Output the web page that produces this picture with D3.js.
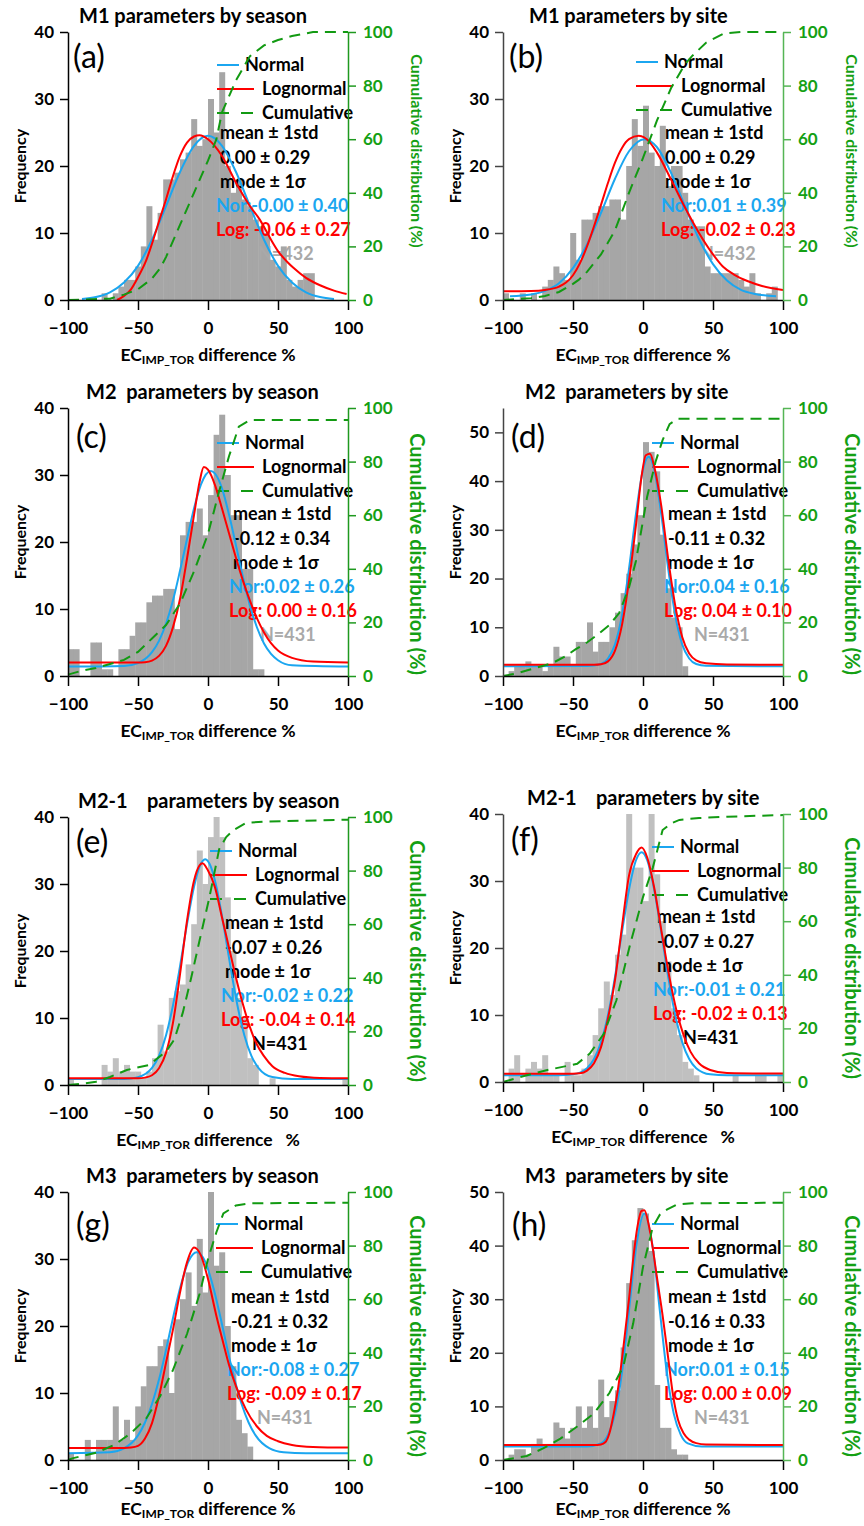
<!DOCTYPE html>
<html>
<head>
<meta charset="utf-8">
<script src="https://cdn.jsdelivr.net/npm/d3@7"></script>
<style>
  body { margin: 0; background: #fff; }
  svg { display: block; font-family: Lato, "Open Sans", "DejaVu Sans", sans-serif; }
  text { white-space: pre; }
</style>
</head>
<body>
<svg id="chart" width="864" height="1526"></svg>
<script>
// ---------- histogram bins: 4 % wide, first bin starts at -100 % ----------
const binStart = -100;
const binWidth = 4;

// counts per bin (50 bins, -100 % .. +100 %)
const countsA = [0,0,0,0,0,0,1,0,1,2, 3,3,5,8,14,9,13,18,18,19, 21,22,27,23,24,30,25,34,20,16, 18,15,14,12,11,10,6,5,8,3, 2,3,4,4,0,0,0,0,0,0];
const countsB = [1,0,0,1,0,1,0,2,3,5, 4,3,10,6,12,12,13,14,14,15, 15,12,20,27,23,29,22,20,26,17, 20,20,16,12,11,11,5,4,4,4, 4,4,3,2,4,1,0,1,2,0];
const countsC = [4,4,0,0,5,5,1,1,0,4, 4,6,8,8,11,12,12,13,13,7, 21,23,23,25,21,27,36,39,30,24, 24,16,16,1,1,0,0,0,0,0, 0,0,0,0,0,0,0,0,0,0];
const countsD = [0,1,2,2,3,2,2,1,2,6, 4,4,2,7,7,11,5,7,7,10, 13,17,21,27,33,48,46,42,29,18, 12,10,2,0,0,0,0,0,0,0, 0,0,0,0,0,0,0,0,0,0];
const countsE = [1,0,0,0,0,0,3,2,4,2, 3,2,2,1,2,4,9,5,13,14, 15,18,24,35,30,37,40,37,28,20, 13,10,4,3,0,0,1,0,0,0, 0,0,0,0,0,0,0,0,0,1];
const countsF = [0,2,4,0,2,3,2,4,1,1, 0,3,1,1,2,4,7,11,15,13, 19,22,40,32,32,27,40,31,24,18, 11,7,3,2,1,0,0,0,0,0, 0,1,0,0,0,1,1,0,0,1];
const countsG = [1,0,0,3,0,3,3,3,8,3, 6,3,8,11,14,14,17,18,10,21, 24,28,23,33,25,40,29,31,20,14, 6,4,2,0,0,0,0,0,0,0, 0,0,0,0,0,0,0,0,0,0];
const countsH = [0,1,2,2,1,3,4,3,3,7, 6,4,6,10,6,10,6,15,8,11, 13,21,33,41,47,46,39,14,6,6, 2,1,1,0,0,0,0,0,0,0, 0,0,0,0,0,0,0,0,0,0];

// fitted Normal curves: [difference %, frequency]
const normalA = [[-90,0.15],[-80,0.45],[-70,1.15],[-60,2.6],[-50,5.1],[-40,9.0],[-30,14.0],[-20,19.1],[-10,23.0],[0,24.5],[10,23.0],[20,19.1],[30,14.0],[40,9.0],[50,5.1],[60,2.6],[70,1.15],[80,0.45],[90,0.15]];
const normalB = [[-95,0.55],[-80,0.82],[-70,1.36],[-60,2.5],[-50,4.75],[-40,8.3],[-30,13.0],[-20,18.1],[-10,22.2],[1,24],[10,22.8],[20,19.0],[30,14.0],[40,9.1],[50,5.35],[60,2.9],[70,1.5],[80,0.9],[95,0.55]];
const normalC = [[-100,1.4],[-60,1.5],[-50,1.93],[-40,3.55],[-35,5.25],[-30,7.8],[-25,11.3],[-20,15.7],[-15,20.4],[-10,25.0],[-5,28.6],[2,30.6],[5,30.2],[10,28.0],[15,24.1],[20,19.5],[25,14.7],[30,10.5],[35,7.24],[40,4.85],[45,3.3],[50,2.36],[60,1.6],[100,1.4]];
const normalD = [[-100,2],[-40,2.05],[-30,2.47],[-25,3.6],[-20,6.5],[-15,12.5],[-10,22],[-5,33.3],[0,42.4],[4,45],[8,42.4],[13,33.3],[18,22],[23,12.5],[28,6.5],[33,3.6],[38,2.47],[45,2.1],[100,2]];
const normalE = [[-100,0.9],[-60,0.9],[-50,1.18],[-40,2.56],[-35,4.35],[-30,7.4],[-25,11.9],[-20,17.7],[-15,24],[-10,29.6],[-6,32.6],[-2,33.7],[2,32.6],[6,29.6],[11,24],[16,17.7],[21,11.9],[26,7.4],[31,4.35],[36,2.56],[46,1.18],[60,0.9],[100,0.9]];
const normalF = [[-100,1],[-60,1],[-50,1.14],[-40,2.06],[-35,3.42],[-30,5.95],[-25,10],[-20,15.7],[-15,22.4],[-10,28.7],[-5,33.1],[-1,34.3],[3,33.1],[8,28.7],[13,22.4],[18,15.7],[23,10],[28,5.95],[33,3.42],[38,2.06],[48,1.14],[60,1],[100,1]];
const normalG = [[-100,1],[-70,1.15],[-60,1.73],[-50,3.67],[-45,5.6],[-40,8.36],[-35,12],[-30,16.4],[-25,21.2],[-20,25.6],[-14,29.6],[-8,31],[-2,29.6],[4,25.6],[9,21.2],[14,16.4],[19,12],[24,8.36],[29,5.6],[34,3.67],[44,1.73],[54,1.15],[70,1],[100,1]];
const normalH = [[-100,2.5],[-40,2.52],[-30,3.1],[-25,4.7],[-20,8.6],[-15,16.4],[-10,27.9],[-5,39.6],[1,46],[7,39.6],[12,27.9],[17,16.4],[22,8.6],[27,4.7],[32,3.1],[42,2.52],[100,2.5]];

// fitted Lognormal curves: [difference %, frequency]
const lognormalA = [[-65,0],[-60,0.6],[-55,1.6],[-50,3.4],[-44,6],[-40,8.4],[-34,12.4],[-30,15],[-25,18.5],[-20,21.5],[-15,23.5],[-10,24.4],[-6,24.6],[0,24],[10,21.5],[20,17.5],[30,14],[37,12],[45,9],[50,7.3],[57,5.6],[61,4.8],[70,3.3],[80,2.2],[90,1.4],[99,0.9]];
const lognormalB = [[-100,1.3],[-80,1.35],[-70,1.5],[-60,2],[-55,2.6],[-50,3.7],[-45,5.5],[-40,8],[-35,11],[-30,14.2],[-25,17.5],[-20,20.5],[-15,22.7],[-10,24],[-3,24.5],[5,23.5],[10,22],[20,18],[30,13.8],[40,10],[50,6.8],[57,5],[65,3.8],[75,2.8],[85,2.1],[100,1.5]];
const lognormalC = [[-100,2],[-50,2],[-45,2.05],[-40,2.3],[-35,3],[-30,4.5],[-25,7.3],[-20,11.5],[-15,17.5],[-10,24],[-6,29],[-3,31.2],[0,30.8],[5,28.5],[10,25],[15,21.3],[20,17.6],[25,14.2],[30,11.2],[35,8.6],[40,6.5],[45,4.9],[50,3.8],[60,2.7],[75,2.15],[100,2]];
const lognormalD = [[-100,2.3],[-35,2.3],[-30,2.4],[-25,3.0],[-20,5.2],[-15,10.5],[-10,19.5],[-5,31],[-1,41],[2,45.3],[5,45.6],[8,43],[13,35],[18,24],[23,14.5],[28,8],[33,4.6],[38,3.2],[45,2.6],[60,2.35],[100,2.3]];
const lognormalE = [[-100,1],[-50,1],[-45,1.1],[-40,1.45],[-35,2.5],[-30,4.8],[-25,9.3],[-20,16.5],[-15,24.5],[-10,30.5],[-6,32.8],[-4,33.1],[0,32],[5,29.5],[10,25],[15,20.5],[20,16],[25,12],[30,8.6],[35,6],[40,4.3],[46,2.8],[55,1.8],[65,1.3],[80,1.05],[100,1]];
const lognormalF = [[-100,1.25],[-50,1.25],[-45,1.3],[-40,1.7],[-35,2.8],[-30,5.2],[-25,9.5],[-20,15.2],[-15,23.2],[-10,30.8],[-5,34],[-1,35],[3,33.5],[8,29],[14,21.5],[19,15.5],[24,10.6],[29,7],[34,4.5],[40,2.8],[48,1.8],[60,1.35],[100,1.25]];
const lognormalG = [[-100,1.8],[-60,1.8],[-55,1.85],[-50,2.1],[-45,3.2],[-40,5.5],[-35,9.5],[-30,14.5],[-25,19.5],[-20,25],[-15,29.5],[-10,31.7],[-5,30.5],[0,27],[6,21.5],[10,18.2],[15,14.2],[20,11],[27,7.6],[35,5],[42,3.6],[50,2.8],[60,2.25],[75,1.95],[100,1.85]];
const lognormalH = [[-100,2.8],[-35,2.8],[-30,2.9],[-27,3.3],[-24,5],[-21,8.5],[-18,13],[-14,21],[-10,30],[-7,37.5],[-4,43.5],[-1,46.5],[1,46.6],[4,44],[7,39.5],[10,34],[14,27],[18,19],[21.5,12],[25,7.5],[29,5],[33,3.8],[38,3.15],[45,2.9],[100,2.8]];

// cumulative distribution: [difference %, cumulative %]
const cumulativeA = [[-100,0],[-70,0.5],[-60,2],[-50,4],[-40,8],[-34,12],[-30,16],[-20,28],[-10,40],[0,52],[6,60],[10,70],[20,82],[30,91],[40,95],[50,97],[60,98.5],[75,100],[100,100]];
const cumulativeB = [[-100,0],[-80,0.7],[-70,1.5],[-60,3],[-50,6],[-46,7.5],[-40,10.5],[-30,17],[-20,26],[-10,40],[0,53],[5,60],[10,67],[20,79],[30,88],[35,91],[45,96],[58,99.5],[70,100],[100,100]];
const cumulativeC = [[-100,0.5],[-90,2],[-80,3],[-70,4.5],[-60,6],[-50,9],[-40,14],[-30,19],[-20,27],[-10,39],[0,53],[8,69],[15,82],[22,93],[30,95.5],[40,95.5],[100,95.5]];
const cumulativeD = [[-100,0],[-90,1],[-80,2.5],[-70,4],[-64,5],[-55,7.5],[-48,10],[-40,12.5],[-31,16],[-24,19],[-17,23.5],[-10,33],[-5,43],[0,58],[3,67],[9,80],[14,88],[19,94],[25,96],[40,96],[100,96]];
const cumulativeE = [[-100,0],[-90,0.5],[-80,1.2],[-70,3],[-58,5.6],[-42,7.5],[-30,12.5],[-24,17],[-18,27],[-12,40],[-6,54],[1,70],[8,88],[13,92.5],[18,95],[27,97.8],[40,98.3],[100,99]];
const cumulativeF = [[-100,0],[-83,2.5],[-69,4.4],[-47,6.8],[-38,10.6],[-28,18],[-19,30.5],[-9,51.7],[0,69],[7,80],[14,94],[20,96.5],[26,97.8],[40,98.5],[60,99],[100,99.6]];
const cumulativeG = [[-100,0],[-97,0.6],[-80,2.7],[-67,5.6],[-55,10],[-44,15.6],[-34,24],[-25,33.6],[-15,47],[-6,62],[0,75],[6,85],[11,92],[20,95],[30,95.8],[100,96]];
const cumulativeH = [[-100,0],[-83,1.5],[-71,4.4],[-59,8],[-47,12.5],[-35,17.4],[-24,25],[-14,35],[-7,51],[0,72],[7,87],[12,91.5],[17,93.4],[24,95.3],[35,95.8],[100,96]];

// panel titles and statistics
const titles = ["M1 parameters by season", "M1 parameters by site", "M2  parameters by season", "M2  parameters by site",
                "M2-1    parameters by season", "M2-1    parameters by site", "M3  parameters by season", "M3  parameters by site"];
const panelLabels = ["(a)", "(b)", "(c)", "(d)", "(e)", "(f)", "(g)", "(h)"];
const meanStd = ["0.00 ± 0.29", "0.00 ± 0.29", "-0.12 ± 0.34", "-0.11 ± 0.32", "-0.07 ± 0.26", "-0.07 ± 0.27", "-0.21 ± 0.32", "-0.16 ± 0.33"];
const normalMode = ["Nor:-0.00 ± 0.40", "Nor:0.01 ± 0.39", "Nor:0.02 ± 0.26", "Nor:0.04 ± 0.16", "Nor:-0.02 ± 0.22", "Nor:-0.01 ± 0.21", "Nor:-0.08 ± 0.27", "Nor:0.01 ± 0.15"];
const lognormalMode = ["Log: -0.06 ± 0.27", "Log: -0.02 ± 0.23", "Log: 0.00 ± 0.16", "Log: 0.04 ± 0.10", "Log: -0.04 ± 0.14", "Log: -0.02 ± 0.13", "Log: -0.09 ± 0.17", "Log: 0.00 ± 0.09"];
const sampleSize = ["N=432", "N=432", "N=431", "N=431", "N=431", "N=431", "N=431", "N=431"];
const xTicks = [-100, -50, 0, 50, 100];
const cumTicks = [0, 20, 40, 60, 80, 100];
const freqTicks40 = [0, 10, 20, 30, 40];
const freqTicks50 = [0, 10, 20, 30, 40, 50];

const seriesData = [
  [countsA, normalA, lognormalA, cumulativeA],
  [countsB, normalB, lognormalB, cumulativeB],
  [countsC, normalC, lognormalC, cumulativeC],
  [countsD, normalD, lognormalD, cumulativeD],
  [countsE, normalE, lognormalE, cumulativeE],
  [countsF, normalF, lognormalF, cumulativeF],
  [countsG, normalG, lognormalG, cumulativeG],
  [countsH, normalH, lognormalH, cumulativeH]
];

// ---------- layout of each panel (page coordinates) ----------
const W = 280, H = 268;
const layout = [
  {left: 68,  top: 32,   yMax: 40, ticks: freqTicks40, titleX: 79,  lab: [5, 24],  leg: [149, 33], stat: [152, 101], nx: 190, bar: "#a6a6a6", nCol: "#a9a9a9", axisCol: "#000", cumAxis: "#1f991f", cumFont: 16, cumShift: -15, xlab: 61},
  {left: 503, top: 32,   yMax: 40, ticks: freqTicks40, titleX: 529, lab: [6, 24],  leg: [133, 30], stat: [162, 101], nx: 197, bar: "#a6a6a6", nCol: "#a9a9a9", axisCol: "#444", cumAxis: "#55b555", cumFont: 16, cumShift: -15, xlab: 61},
  {left: 68,  top: 408,  yMax: 40, ticks: freqTicks40, titleX: 86,  lab: [8, 28],  leg: [149, 35], stat: [165, 106], nx: 192, bar: "#a6a6a6", nCol: "#a9a9a9", axisCol: "#000", cumAxis: "#1f991f", cumFont: 20, cumShift: 12, xlab: 61},
  {left: 503, top: 408,  yMax: 55, ticks: freqTicks50, titleX: 525, lab: [8, 28],  leg: [149, 35], stat: [165, 106], nx: 191, bar: "#a6a6a6", nCol: "#a9a9a9", axisCol: "#444", cumAxis: "#55b555", cumFont: 20, cumShift: 12, xlab: 61},
  {left: 68,  top: 817,  yMax: 40, ticks: freqTicks40, titleX: 78,  lab: [8, 24],  leg: [142, 34], stat: [157, 106], nx: 184, bar: "#c0c0c0", nCol: "#000",    axisCol: "#000", cumAxis: "#1f991f", cumFont: 20, cumShift: 10, xlab: 61},
  {left: 503, top: 814,  yMax: 40, ticks: freqTicks40, titleX: 527, lab: [8, 25],  leg: [149, 33], stat: [154, 103], nx: 180, bar: "#c0c0c0", nCol: "#000",    axisCol: "#444", cumAxis: "#55b555", cumFont: 20, cumShift: 10, xlab: 61},
  {left: 68,  top: 1192, yMax: 40, ticks: freqTicks40, titleX: 86,  lab: [8, 32],  leg: [148, 32], stat: [163, 105], nx: 189, bar: "#a6a6a6", nCol: "#a9a9a9", axisCol: "#000", cumAxis: "#1f991f", cumFont: 20, cumShift: 10, xlab: 55},
  {left: 503, top: 1192, yMax: 50, ticks: freqTicks50, titleX: 525, lab: [9, 32],  leg: [149, 32], stat: [165, 105], nx: 191, bar: "#a6a6a6", nCol: "#a9a9a9", axisCol: "#444", cumAxis: "#55b555", cumFont: 20, cumShift: 10, xlab: 55}
];

const BLUE = "#1ba6f0", RED = "#ff0000", GREEN = "#129a12", GREEN_TXT = "#14a014";
const FONT_B = 18;

const svg = d3.select("#chart");

seriesData.forEach(([counts, normal, lognormal, cumulative], k) => {
  const L = layout[k];
  const g = svg.append("g").attr("transform", `translate(${L.left},${L.top})`);
  const x = d3.scaleLinear().domain([-100, 100]).range([0, W]);
  const y = d3.scaleLinear().domain([0, L.yMax]).range([H, 0]);
  const yc = d3.scaleLinear().domain([0, 100]).range([H, 0]);

  // histogram bars
  const bins = counts.map((c, i) => ({x0: binStart + i * binWidth, c})).filter(d => d.c > 0);
  g.append("g").selectAll("rect").data(bins).join("rect")
    .attr("x", d => x(d.x0))
    .attr("width", x(binStart + binWidth) - x(binStart) + 0.4)
    .attr("y", d => y(d.c))
    .attr("height", d => H - y(d.c))
    .attr("fill", L.bar);

  // statistics block
  const st = g.append("g").attr("font-weight", "bold").attr("font-size", FONT_B);
  const sx = L.stat[0], sy = L.stat[1], step = 24.2;
  const rows = [
    {t: "mean ± 1std", x: sx, c: "#000"},
    {t: meanStd[k], x: sx, c: "#000"},
    {t: "mode ± 1σ", x: sx, c: "#000"},
    {t: normalMode[k], x: sx - 4, c: BLUE},
    {t: lognormalMode[k], x: sx - 4, c: RED},
    {t: sampleSize[k], x: L.nx, c: L.nCol}
  ];
  rows.forEach((r, i) => {
    st.append("text").attr("x", r.x).attr("y", sy + i * step).attr("dy", "0.36em")
      .attr("fill", r.c).text(r.t);
  });

  // legend
  const lg = g.append("g").attr("font-weight", "bold").attr("font-size", FONT_B);
  const lx = L.leg[0], ly = L.leg[1];
  lg.append("line").attr("x1", lx).attr("x2", lx + 22).attr("y1", ly).attr("y2", ly).attr("stroke", BLUE).attr("stroke-width", 2);
  lg.append("text").attr("x", lx + 28).attr("y", ly).attr("dy", "0.36em").text("Normal");
  lg.append("line").attr("x1", lx).attr("x2", lx + 37).attr("y1", ly + 24).attr("y2", ly + 24).attr("stroke", RED).attr("stroke-width", 2);
  lg.append("text").attr("x", lx + 45).attr("y", ly + 24).attr("dy", "0.36em").text("Lognormal");
  lg.append("line").attr("x1", lx).attr("x2", lx + 37).attr("y1", ly + 48).attr("y2", ly + 48).attr("stroke", GREEN).attr("stroke-width", 2).attr("stroke-dasharray", "12,12");
  lg.append("text").attr("x", lx + 45).attr("y", ly + 48).attr("dy", "0.36em").text("Cumulative");

  // fitted curves and cumulative distribution
  const fit = d3.line().x(d => x(d[0])).y(d => y(d[1])).curve(d3.curveMonotoneX);
  const cum = d3.line().x(d => x(d[0])).y(d => yc(d[1]));
  g.append("path").attr("d", fit(normal)).attr("fill", "none").attr("stroke", BLUE).attr("stroke-width", 2);
  g.append("path").attr("d", fit(lognormal)).attr("fill", "none").attr("stroke", RED).attr("stroke-width", 2);
  g.append("path").attr("d", cum(cumulative)).attr("fill", "none").attr("stroke", GREEN).attr("stroke-width", 2).attr("stroke-dasharray", "11,7");

  // axes
  const styleAxis = (sel, col, txtCol) => {
    sel.select(".domain").attr("stroke", col).attr("stroke-width", 1.5);
    sel.selectAll(".tick line").attr("stroke", col).attr("stroke-width", 1.5);
    sel.selectAll(".tick text").attr("fill", txtCol).attr("font-size", 17).attr("font-weight", "bold")
      .attr("font-family", "Lato, 'Open Sans', sans-serif");
  };
  g.append("g").attr("transform", `translate(0,${H})`)
    .call(d3.axisBottom(x).tickValues(xTicks).tickSize(10).tickSizeOuter(0).tickPadding(12))
    .call(s => styleAxis(s, "#000", "#000"));
  g.append("g")
    .call(d3.axisLeft(y).tickValues(L.ticks).tickSize(8).tickSizeOuter(0).tickPadding(6))
    .call(s => styleAxis(s, L.axisCol, "#000"));
  g.append("g").attr("transform", `translate(${W},0)`)
    .call(d3.axisRight(yc).tickValues(cumTicks).tickSize(8).tickSizeOuter(0).tickPadding(7))
    .call(s => styleAxis(s, L.cumAxis, GREEN_TXT));

  // axis titles
  g.append("text").attr("transform", `translate(-48,${H / 2}) rotate(-90)`)
    .attr("text-anchor", "middle").attr("dy", "0.36em")
    .attr("font-size", 16).attr("font-weight", "bold").text("Frequency");
  g.append("text").attr("transform", `translate(${W + 69},${H / 2 + L.cumShift}) rotate(90)`)
    .attr("text-anchor", "middle").attr("dy", "0.36em").attr("fill", GREEN_TXT)
    .attr("font-size", L.cumFont).attr("font-weight", "bold").text("Cumulative distribution (%)");

  const wide = (k === 4 || k === 5);
  const xt = g.append("text").attr("x", W / 2).attr("y", H + L.xlab).attr("text-anchor", "middle")
    .attr("font-size", 17.5).attr("font-weight", "bold");
  xt.append("tspan").text("EC");
  xt.append("tspan").attr("font-size", 12).attr("dy", 3).text("IMP_TOR");
  xt.append("tspan").attr("dy", -3).text(wide ? " difference   %" : " difference %");

  // title and panel letter
  svg.append("text").attr("x", L.titleX).attr("y", L.top - 16).attr("dy", "0.36em")
    .attr("font-size", 20).attr("font-weight", "bold").text(titles[k]);
  g.append("text").attr("x", L.lab[0]).attr("y", L.lab[1]).attr("dy", "0.36em")
    .attr("font-size", 32).text(panelLabels[k]);
});
</script>
</body>
</html>
